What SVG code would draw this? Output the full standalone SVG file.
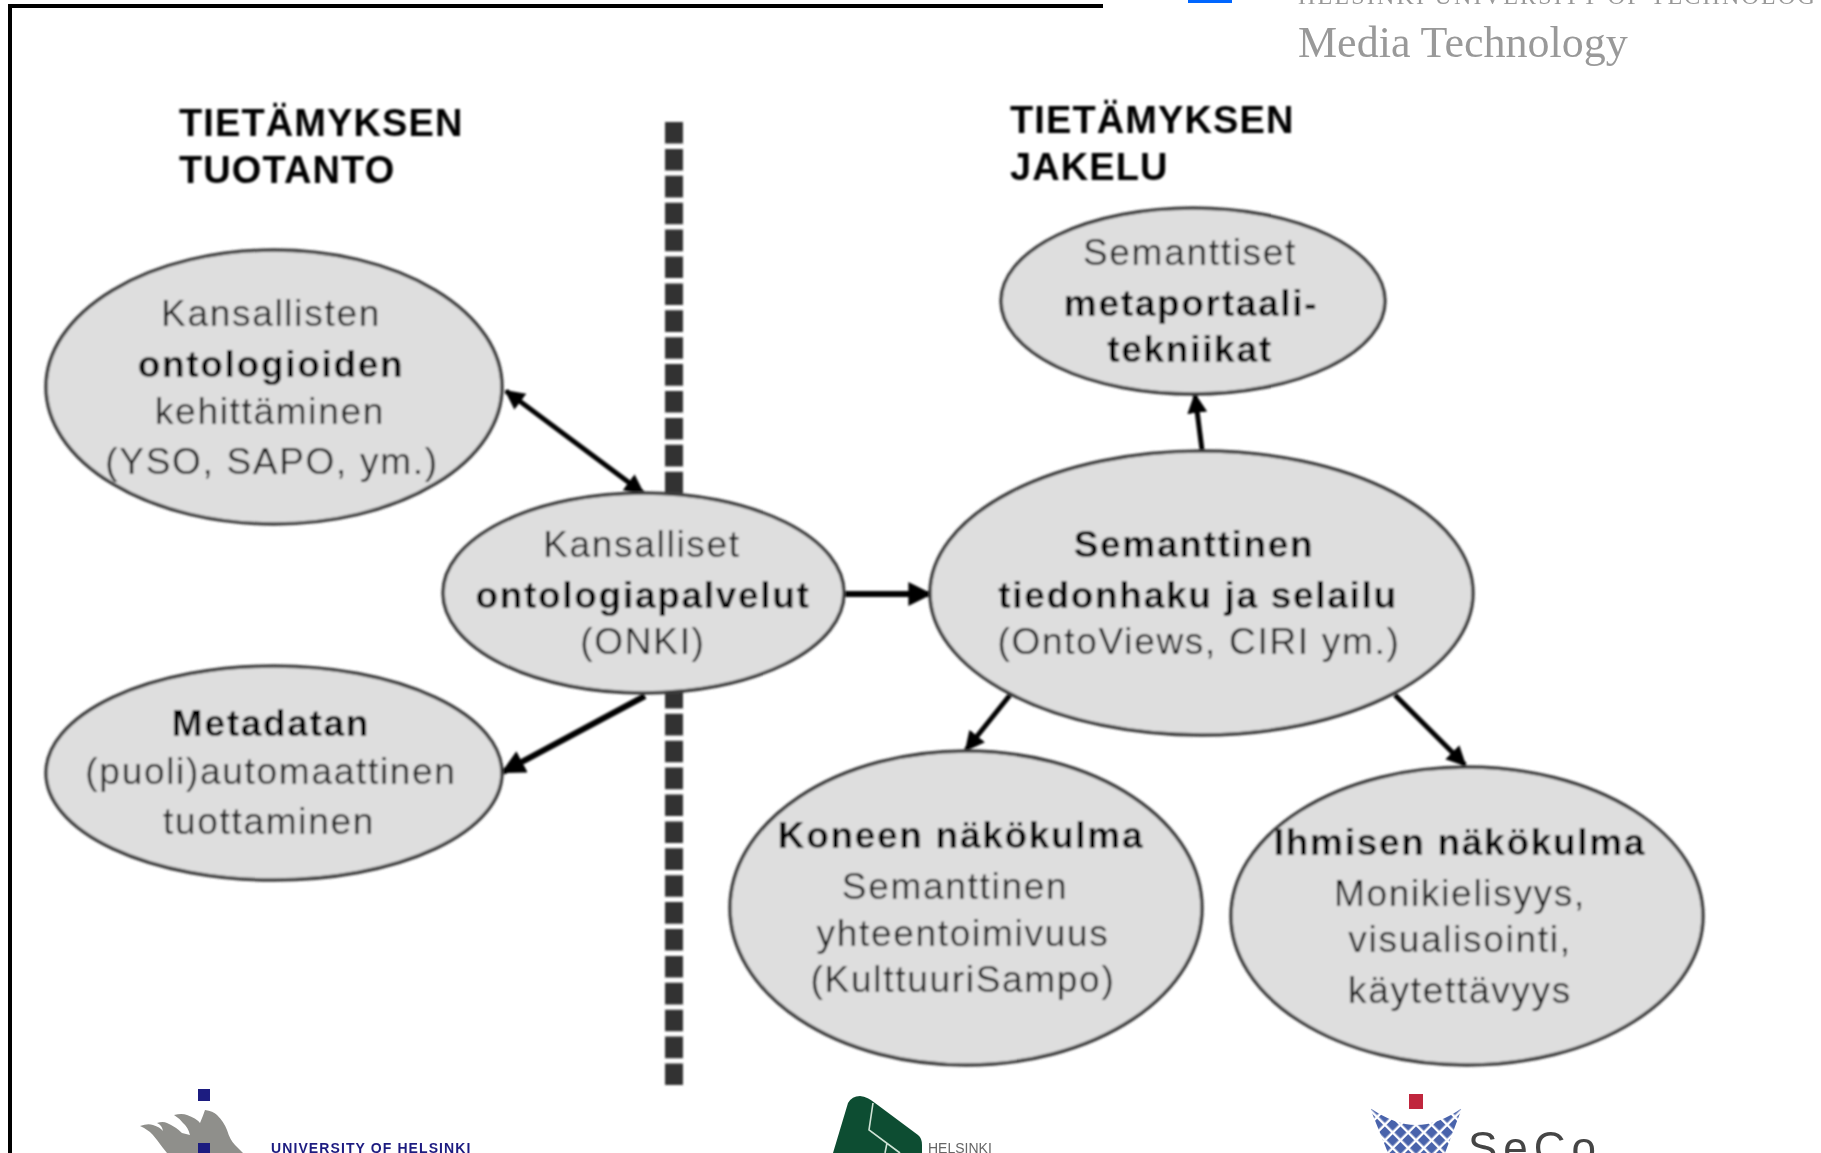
<svg xmlns="http://www.w3.org/2000/svg" width="1821" height="1153" viewBox="0 0 1821 1153">
<style>
.n{fill:#dedede;stroke:#3c3c3c;stroke-width:3.5}
text{font-family:"Liberation Sans",Arial,sans-serif;font-size:37px;fill:#1c1c1c;text-anchor:middle;letter-spacing:1.7px}
.b{font-weight:bold;fill:#000}
.h{font-weight:bold;font-size:38px;fill:#000;text-anchor:start;letter-spacing:1.1px}
.c{fill:none;stroke:#000;stroke-width:5}
.hs{font-family:"Liberation Serif",serif;fill:#999;text-anchor:start}
.lg{text-anchor:start;letter-spacing:.6px}
</style>
<defs>
<marker id="a" markerWidth="4" markerHeight="4" refX="3.6" refY="2" orient="auto-start-reverse"><path d="M0 0L4 2L0 4Z" fill="#000"/></marker>
<filter id="s" x="-5%" y="-5%" width="110%" height="110%"><feGaussianBlur stdDeviation="0.8"/></filter>
<filter id="s2" x="-5%" y="-5%" width="110%" height="110%"><feGaussianBlur stdDeviation="0.5"/></filter>
<pattern id="net" width="11" height="11" patternUnits="userSpaceOnUse" patternTransform="translate(1416 1125) rotate(45)"><rect x="1" y="1" width="8.6" height="8.6" fill="#4a63ab"/></pattern>
</defs>
<rect width="1821" height="1153" fill="#fff"/>
<path d="M10 1153V6H1103" fill="none" stroke="#000" stroke-width="4"/>
<g id="page-header" filter="url(#s2)">
<rect x="1188" y="0" width="44" height="3" fill="#06f"/>
<text class="hs" x="1298" y="4" style="font-size:24px;letter-spacing:2.2px">HELSINKI UNIVERSITY OF TECHNOLOGY</text>
<text class="hs" x="1298" y="57" style="font-size:44px;letter-spacing:0">Media Technology</text>
</g>
<g filter="url(#s)">
<line id="divider" x1="674" y1="122" x2="674" y2="1085" stroke="#333" stroke-width="18" stroke-dasharray="21.6 5.3"/>
<g id="connectors">
<line class="c" x1="506" y1="391" x2="643" y2="493" marker-start="url(#a)" marker-end="url(#a)"/>
<line class="c" style="stroke-width:6" x1="645" y1="696" x2="503" y2="772" marker-end="url(#a)"/>
<line class="c" style="stroke-width:6" x1="845" y1="594" x2="930" y2="594" marker-end="url(#a)"/>
<line class="c" x1="1202" y1="450" x2="1195" y2="395" marker-end="url(#a)"/>
<line class="c" x1="1010" y1="695" x2="966" y2="750" marker-end="url(#a)"/>
<line class="c" x1="1395" y1="695" x2="1465" y2="765" marker-end="url(#a)"/>
</g>
<g id="n-kansallisten"><ellipse class="n" cx="274" cy="387" rx="228" ry="137"/>
<text x="271" y="326">Kansallisten</text><text x="271" y="377" class="b">ontologioiden</text><text x="270" y="424">kehittäminen</text><text x="272" y="474">(YSO, SAPO, ym.)</text></g>
<g id="n-metadata"><ellipse class="n" cx="274" cy="773" rx="228" ry="107"/>
<text x="271" y="736" class="b">Metadatan</text><text x="271" y="784">(puoli)automaattinen</text><text x="269" y="834">tuottaminen</text></g>
<g id="n-onki"><ellipse class="n" cx="643.500" cy="593" rx="200.500" ry="100"/>
<text x="642" y="557">Kansalliset</text><text x="643" y="608" class="b">ontologiapalvelut</text><text x="643" y="654">(ONKI)</text></g>
<g id="n-haku"><ellipse class="n" cx="1201.500" cy="593" rx="271.500" ry="142"/>
<text x="1194" y="557" class="b">Semanttinen</text><text x="1198" y="608" class="b">tiedonhaku ja selailu</text><text x="1199" y="654">(OntoViews, CIRI ym.)</text></g>
<g id="n-meta"><ellipse class="n" cx="1193" cy="301" rx="192" ry="93"/>
<text x="1190" y="265">Semanttiset</text><text x="1191" y="316" class="b">metaportaali-</text><text x="1190" y="362" class="b">tekniikat</text></g>
<g id="n-kone"><ellipse class="n" cx="966" cy="908" rx="236" ry="157"/>
<text x="961" y="848" class="b">Koneen näkökulma</text><text x="955" y="899">Semanttinen</text><text x="963" y="946">yhteentoimivuus</text><text x="963" y="992">(KulttuuriSampo)</text></g>
<g id="n-ihminen"><ellipse class="n" cx="1467" cy="916" rx="236" ry="149"/>
<text x="1460" y="855" class="b">Ihmisen näkökulma</text><text x="1460" y="906">Monikielisyys,</text><text x="1460" y="952">visualisointi,</text><text x="1460" y="1003">käytettävyys</text></g>
<g id="h-tuotanto"><text class="h" x="179" y="136">TIETÄMYKSEN</text><text class="h" x="179" y="183">TUOTANTO</text></g>
<g id="h-jakelu"><text class="h" x="1010" y="133">TIETÄMYKSEN</text><text class="h" x="1010" y="180">JAKELU</text></g>
</g>
<g id="logo-uh" filter="url(#s2)">
<rect x="198" y="1089" width="12" height="12" fill="#1c1a80"/>
<path d="M140 1126Q148 1123 153 1125Q160 1127 163 1131Q162 1125 157 1123Q163 1121 167 1123Q176 1127 182 1133L190 1135Q188 1127 183 1123Q179 1118 174 1115Q182 1113 187 1115Q196 1118 200 1123Q203 1116 205 1110Q213 1111 217 1115Q224 1122 227 1130Q230 1140 235 1145L243 1153H167Q162 1147 157 1140Q150 1130 140 1126Z" fill="#8f8f8b"/>
<rect x="198" y="1143" width="12" height="10" fill="#1c1a80"/>
<text class="lg" x="271" y="1153" style="font-size:14px;font-weight:bold;fill:#1c1a80;letter-spacing:1.1px">UNIVERSITY OF HELSINKI</text>
</g>
<g id="logo-hel" filter="url(#s2)">
<path d="M833 1153L848 1103Q852 1096 860 1096Q868 1097 875 1103L918 1135Q922 1138 922 1145V1153Z" fill="#104e33"/>
<path d="M873 1103L869 1130L900 1153M887 1143L885 1153" fill="none" stroke="#cfe3d6" stroke-width="1.6"/>
<text class="lg" x="928" y="1153" style="font-size:14px;fill:#666;letter-spacing:0">HELSINKI</text>
</g>
<g id="logo-seco" filter="url(#s2)">
<rect x="1409" y="1094" width="14" height="15" fill="#c0263c"/>
<path d="M1370 1108Q1395 1125 1416 1125Q1438 1125 1462 1108L1445 1153H1388Z" fill="url(#net)"/>
<text class="lg" x="1468" y="1163" style="font-size:44px;fill:#444;letter-spacing:6px">SeCo</text>
</g>
</svg>
